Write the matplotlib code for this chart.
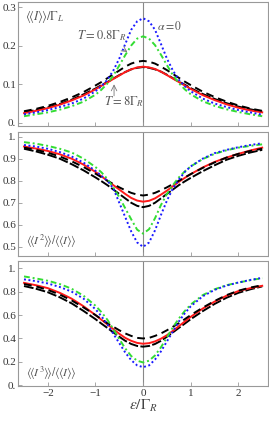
import numpy as np
import matplotlib
matplotlib.use('Agg')
from matplotlib import pyplot as plt

plt.rcParams['font.family'] = ['Liberation Serif', 'DejaVu Serif']
plt.rcParams['mathtext.fontset'] = 'stix'

# energy axis eps/Gamma_R
eps = [-2.5, -2.25, -2, -1.75, -1.5, -1.25, -1, -0.875, -0.75, -0.625, -0.5, -0.375, -0.25, -0.125, 0,
       0.125, 0.25, 0.375, 0.5, 0.625, 0.75, 0.875, 1, 1.25, 1.5, 1.75, 2, 2.25, 2.5]

# panel 1: <<I>>/Gamma_L
blue1 = [0.022, 0.027, 0.033, 0.041, 0.050, 0.063, 0.082, 0.095, 0.112, 0.136, 0.167, 0.205, 0.242, 0.264, 0.272,
         0.264, 0.242, 0.205, 0.167, 0.136, 0.112, 0.095, 0.082, 0.063, 0.050, 0.041, 0.033, 0.027, 0.021]
green1 = [0.017, 0.022, 0.027, 0.034, 0.043, 0.055, 0.073, 0.086, 0.102, 0.123, 0.149, 0.176, 0.201, 0.219, 0.225,
          0.219, 0.202, 0.177, 0.150, 0.124, 0.103, 0.087, 0.074, 0.056, 0.044, 0.035, 0.028, 0.022, 0.017]
blackA1 = [0.030, 0.036, 0.044, 0.054, 0.066, 0.080, 0.097, 0.106, 0.116, 0.126, 0.136, 0.146, 0.154, 0.159, 0.161,
           0.159, 0.154, 0.146, 0.137, 0.127, 0.117, 0.107, 0.098, 0.081, 0.067, 0.055, 0.045, 0.037, 0.031]
blackB1 = [0.027, 0.033, 0.040, 0.049, 0.060, 0.074, 0.089, 0.098, 0.106, 0.115, 0.124, 0.132, 0.139, 0.143, 0.145,
           0.143, 0.139, 0.133, 0.125, 0.116, 0.107, 0.099, 0.090, 0.075, 0.062, 0.051, 0.042, 0.035, 0.029]
red1 = [0.025, 0.031, 0.038, 0.047, 0.058, 0.071, 0.087, 0.096, 0.105, 0.114, 0.123, 0.132, 0.139, 0.144, 0.146,
        0.144, 0.140, 0.133, 0.124, 0.115, 0.106, 0.097, 0.088, 0.072, 0.059, 0.048, 0.039, 0.032, 0.027]

# panel 2: <<I^2>>/<<I>>
blue2 = [0.962, 0.955, 0.945, 0.930, 0.910, 0.882, 0.845, 0.822, 0.800, 0.765, 0.700, 0.635, 0.570, 0.520, 0.500,
         0.520, 0.575, 0.645, 0.710, 0.765, 0.805, 0.840, 0.865, 0.900, 0.925, 0.940, 0.952, 0.962, 0.970]
green2 = [0.975, 0.968, 0.958, 0.945, 0.928, 0.900, 0.862, 0.838, 0.808, 0.770, 0.725, 0.675, 0.625, 0.578, 0.560,
          0.580, 0.630, 0.690, 0.740, 0.780, 0.815, 0.842, 0.865, 0.898, 0.922, 0.938, 0.950, 0.958, 0.965]
blackA2 = [0.950, 0.940, 0.927, 0.910, 0.888, 0.862, 0.832, 0.816, 0.800, 0.785, 0.770, 0.757, 0.745, 0.737, 0.733,
           0.737, 0.745, 0.757, 0.770, 0.785, 0.800, 0.815, 0.830, 0.858, 0.883, 0.905, 0.922, 0.935, 0.945]
blackB2 = [0.945, 0.933, 0.918, 0.900, 0.875, 0.847, 0.815, 0.798, 0.780, 0.760, 0.740, 0.720, 0.700, 0.686, 0.680,
           0.686, 0.700, 0.720, 0.740, 0.760, 0.780, 0.797, 0.813, 0.843, 0.870, 0.895, 0.913, 0.928, 0.940]
red2 = [0.955, 0.946, 0.935, 0.920, 0.900, 0.873, 0.840, 0.820, 0.800, 0.780, 0.760, 0.740, 0.722, 0.710, 0.705,
        0.709, 0.720, 0.737, 0.755, 0.775, 0.795, 0.813, 0.830, 0.860, 0.885, 0.905, 0.922, 0.937, 0.950]

# panel 3: <<I^3>>/<<I>>
blue3 = [0.905, 0.890, 0.870, 0.840, 0.800, 0.740, 0.650, 0.590, 0.520, 0.440, 0.360, 0.280, 0.215, 0.170, 0.155,
         0.170, 0.220, 0.290, 0.375, 0.460, 0.545, 0.615, 0.675, 0.760, 0.815, 0.852, 0.878, 0.900, 0.918]
green3 = [0.930, 0.913, 0.893, 0.865, 0.825, 0.765, 0.680, 0.625, 0.560, 0.480, 0.395, 0.315, 0.250, 0.210, 0.195,
          0.210, 0.255, 0.325, 0.410, 0.495, 0.570, 0.635, 0.690, 0.770, 0.820, 0.855, 0.878, 0.898, 0.915]
blackA3 = [0.865, 0.845, 0.815, 0.775, 0.725, 0.665, 0.600, 0.565, 0.530, 0.500, 0.470, 0.443, 0.422, 0.405, 0.400,
           0.405, 0.422, 0.443, 0.470, 0.500, 0.530, 0.565, 0.600, 0.663, 0.720, 0.770, 0.808, 0.835, 0.855]
blackB3 = [0.848, 0.825, 0.795, 0.752, 0.700, 0.635, 0.565, 0.527, 0.490, 0.452, 0.415, 0.380, 0.353, 0.336, 0.330,
           0.336, 0.353, 0.380, 0.415, 0.452, 0.490, 0.527, 0.565, 0.633, 0.695, 0.748, 0.790, 0.820, 0.845]
red3 = [0.875, 0.855, 0.830, 0.790, 0.740, 0.675, 0.600, 0.560, 0.520, 0.480, 0.440, 0.405, 0.380, 0.362, 0.355,
        0.360, 0.375, 0.398, 0.428, 0.465, 0.505, 0.545, 0.585, 0.655, 0.715, 0.765, 0.805, 0.830, 0.850]

xticks = [-2, -1, 0, 1, 2]
xticklabels = ['\u22122', '\u22121', '0', '1', '2']
yticks1 = [0, 0.1, 0.2, 0.3]
ylabels1 = ['0.', '0.1', '0.2', '0.3']
yticks2 = [0.5, 0.6, 0.7, 0.8, 0.9, 1.0]
ylabels2 = ['0.5', '0.6', '0.7', '0.8', '0.9', '1.']
yticks3 = [0, 0.2, 0.4, 0.6, 0.8, 1.0]
ylabels3 = ['0.', '0.2', '0.4', '0.6', '0.8', '1.']

fig = plt.figure(figsize=(2.69, 4.23), dpi=100)
ax1 = fig.add_axes([0.068, 0.702, 0.928, 0.293])
ax2 = fig.add_axes([0.068, 0.395, 0.928, 0.294])
ax3 = fig.add_axes([0.068, 0.0875, 0.928, 0.2955])

frame = '#999999'
txt = '#555555'
lw = 1.4

def draw(ax, b, g, ka, kb, r):
    ax.axvline(0, color='#888888', lw=0.8, zorder=1)
    ax.plot(eps, kb, color='black', lw=lw, dashes=(5, 1.2))
    ax.plot(eps, r, color='#ff1a1a', lw=lw)
    ax.plot(eps, ka, color='black', lw=lw, dashes=(4, 2.5))
    ax.plot(eps, g, color='#33dd33', lw=lw, dashes=(3, 1.5, 1, 1.5))
    ax.plot(eps, b, color='#1a1aff', lw=lw, dashes=(1, 1.3))
    ax.set_xlim(-2.62, 2.62)
    ax.set_xticks(xticks)
    for s in ax.spines.values():
        s.set_color(frame)
        s.set_linewidth(0.8)
    ax.tick_params(direction='in', length=3, width=0.6, color=frame,
                   labelsize=8, labelcolor='#333333', pad=2)
    ax.tick_params(axis='y', pad=1.5)

draw(ax1, blue1, green1, blackA1, blackB1, red1)
draw(ax2, blue2, green2, blackA2, blackB2, red2)
draw(ax3, blue3, green3, blackA3, blackB3, red3)

ax1.set_ylim(-0.0086, 0.314)
ax1.set_yticks(yticks1)
ax1.set_yticklabels(ylabels1)
ax1.set_xticklabels([])
ax2.set_ylim(0.459, 1.023)
ax2.set_yticks(yticks2)
ax2.set_yticklabels(ylabels2)
ax2.set_xticklabels([])
ax3.set_ylim(-0.006, 1.062)
ax3.set_yticks(yticks3)
ax3.set_yticklabels(ylabels3)
ax3.set_xticklabels(xticklabels)
ax3.set_xlabel(r'$\varepsilon/\Gamma_R$', fontsize=11, color='#444444', labelpad=0)

ax1.text(0.027, 0.887, r'$\langle\!\langle I\rangle\!\rangle/\Gamma_L$', transform=ax1.transAxes,
         fontsize=9, color=txt, va='center')
ax1.text(0.555, 0.80, r'$\alpha=0$', transform=ax1.transAxes, fontsize=8.5, color=txt, va='center')
ax1.annotate(r'$T=0.8\Gamma_R$', xy=(-0.33, 0.184), xytext=(-0.86, 0.228), fontsize=9, color=txt,
             ha='center', va='center',
             arrowprops=dict(arrowstyle='->', color='#777777', lw=0.6, shrinkA=6, shrinkB=0))
ax1.text(-0.4, 0.056, r'$T=8\Gamma_R$', fontsize=9, color=txt, ha='center', va='center')
ax1.annotate('', xy=(-0.61, 0.1), xytext=(-0.61, 0.07),
             arrowprops=dict(arrowstyle='->', color='#777777', lw=0.6, shrinkA=0, shrinkB=0))
ax2.text(0.03, 0.12, r'$\langle\!\langle I^2\rangle\!\rangle/\langle\!\langle I\rangle\!\rangle$',
         transform=ax2.transAxes, fontsize=8.5, color=txt, va='center')
ax3.text(0.03, 0.10, r'$\langle\!\langle I^3\rangle\!\rangle/\langle\!\langle I\rangle\!\rangle$',
         transform=ax3.transAxes, fontsize=8.5, color=txt, va='center')

fig.savefig('out.png', dpi=100)
